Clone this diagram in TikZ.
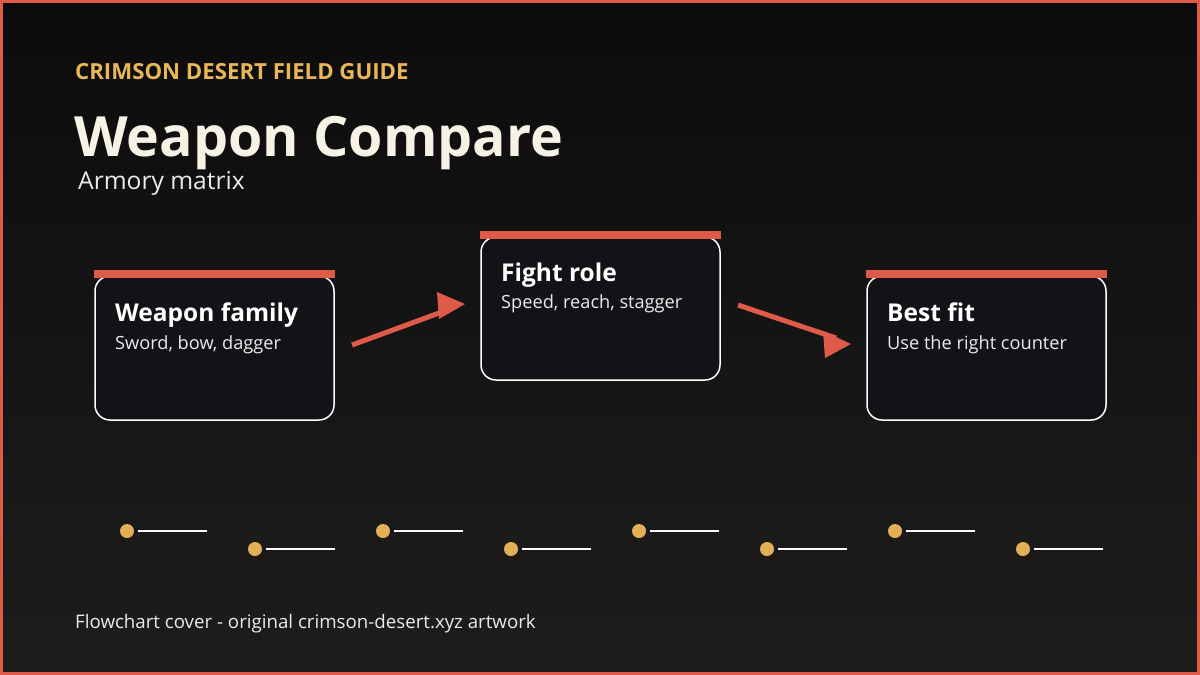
\documentclass[tikz,border=0pt]{standalone}
\usepackage{fontspec}
\setmainfont{Open Sans}
\usetikzlibrary{arrows.meta}
\definecolor{bgtop}{HTML}{0C0C0D}
\definecolor{bgbot}{HTML}{1E1D1C}
\definecolor{crim}{HTML}{E05A4A}
\definecolor{gold}{HTML}{E9B658}
\definecolor{dotc}{HTML}{E2AE58}
\definecolor{cream}{HTML}{F7F2E6}
\definecolor{boxfill}{HTML}{121316}
\tikzset{
  card/.style={draw=white, line width=1.5pt, fill=boxfill, rounded corners=15pt},
  bar/.style={fill=crim, draw=none},
  cardtitle/.style={anchor=base west, inner sep=0pt, text=white, font=\fontsize{24.5}{28}\selectfont\bfseries},
  cardsub/.style={anchor=base west, inner sep=0pt, text=white!92!black, font=\fontsize{18.2}{21}\selectfont},
  flow/.style={draw=crim, line width=5pt},
  headm/.style={fill=crim, draw=none},
  dotm/.style={circle, fill=dotc, minimum size=14pt, inner sep=0pt},
  tick/.style={draw=white, line width=2.6pt}
}
\begin{document}
\begin{tikzpicture}[x=1pt,y=-1pt]
\useasboundingbox (0,0) rectangle (1200,675);
\shade[top color=bgtop, bottom color=bgbot] (0,0) rectangle (1200,675);
\draw[crim, line width=3pt] (1.5,1.5) rectangle (1198.5,673.5);

\node[anchor=base west, inner sep=0pt, text=gold, font=\fontsize{22.2}{25}\selectfont\bfseries] (kicker) at (75,79) {CRIMSON DESERT FIELD GUIDE};
\node[anchor=base west, inner sep=0pt, text=cream, font=\fontsize{55.5}{62}\selectfont\bfseries] (title) at (74,156) {Weapon Compare};
\node[anchor=base west, inner sep=0pt, text=white!92!black, font=\fontsize{24.6}{28}\selectfont] (sub) at (78,189) {Armory matrix};

% cards
\path[card] (95,276) rectangle (334,420);
\fill[bar] (94,270) rectangle (335,278);
\node[cardtitle] (t1) at (115,321) {Weapon family};
\node[cardsub] (s1) at (115,349) {Sword, bow, dagger};

\path[card] (481,237) rectangle (720,380);
\fill[bar] (480,231) rectangle (721,239);
\node[cardtitle] (t2) at (501,281) {Fight role};
\node[cardsub] (s2) at (501,308) {Speed, reach, stagger};

\path[card] (867,276) rectangle (1106,420);
\fill[bar] (866,270) rectangle (1107,278);
\node[cardtitle] (t3) at (887,321) {Best fit};
\node[cardsub] (s3) at (887,349) {Use the right counter};

% connectors
\coordinate (a1s) at (352,345);
\coordinate (a1e) at (450,309);
\coordinate (a1t) at (465,304);
\coordinate (a2s) at (738,305);
\coordinate (a2e) at (836,338);
\coordinate (a2t) at (851,344);
\draw[flow] (a1s) -- (a1e);
\fill[headm] (437,292) -- (a1t) -- (439,319) -- cycle;
\draw[flow] (a2s) -- (a2e);
\fill[headm] (823,331) -- (a2t) -- (825,358) -- cycle;

% timeline dots
\foreach \i/\x/\y in {1/127/531,2/255/549,3/383/531,4/511/549,5/639/531,6/767/549,7/895/531,8/1023/549}{
  \node[dotm] (d\i) at (\x,\y) {};
  \coordinate (e\i) at (\x+80,\y);
  \draw[tick] ([xshift=4pt]d\i.east) -- (e\i);
}

\node[anchor=base west, inner sep=0pt, text=white!92!black, font=\fontsize{18.7}{21}\selectfont] (foot) at (75,628) {Flowchart cover - original crimson-desert.xyz artwork};
\end{tikzpicture}
\end{document}
